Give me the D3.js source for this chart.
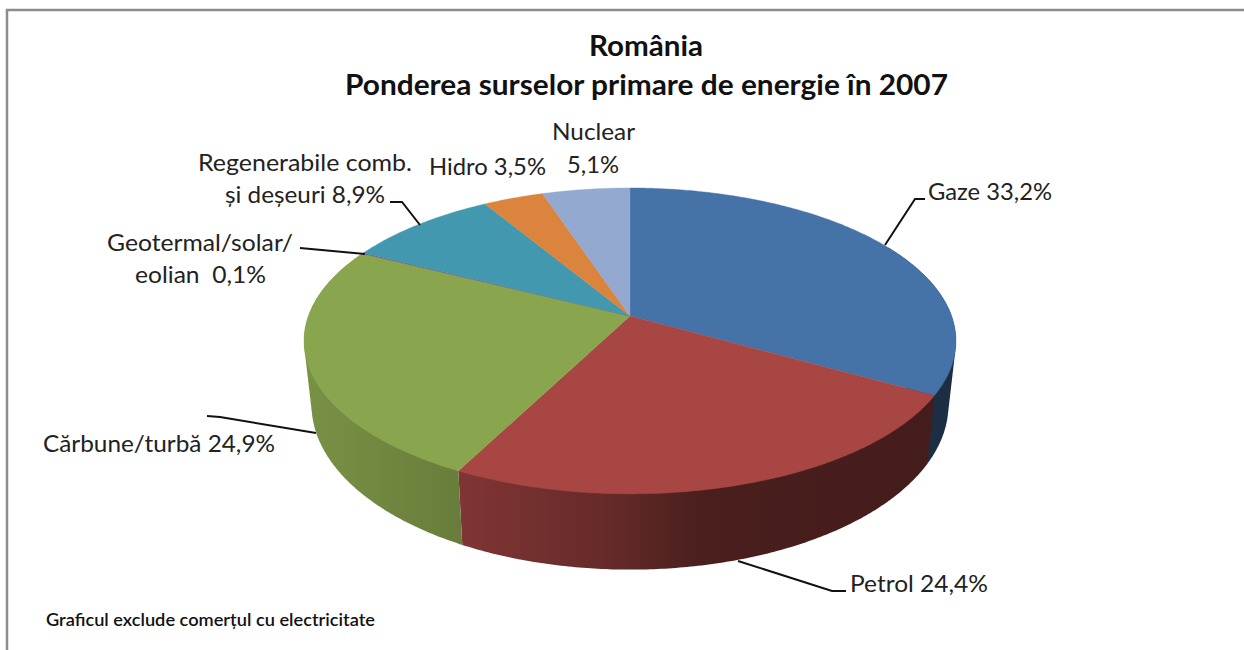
<!DOCTYPE html>
<html>
<head>
<meta charset="utf-8">
<script src="https://cdnjs.cloudflare.com/ajax/libs/d3/7.8.5/d3.min.js"></script>
<style>
html,body{margin:0;padding:0;background:#fff;overflow:hidden}
text{font-family:Lato,"Noto Sans",sans-serif;fill:#222;white-space:pre}
</style>
</head>
<body>
<svg id="c" width="1244" height="650"></svg>
<script>
const categories = ["Gaze","Petrol","Cărbune/turbă","Geotermal/solar/eolian","Regenerabile comb. și deșeuri","Hidro","Nuclear"];
const values = [33.2,24.4,24.9,0.1,8.9,3.5,5.1];
const colors = ["#4572a7","#a84644","#89a54e","#71588f","#4198af","#db843d","#93a9cf"];
const titleLines = ["România","Ponderea surselor primare de energie în 2007"];
const footnote = "Graficul exclude comerțul cu electricitate";

// label text lines per category, with their placement
const labelLayout = [
  {lines:[{t:"Gaze 33,2%",x:928,y:200,w:124}], leader:[[885,245],[915,199],[925,199]]},
  {lines:[{t:"Petrol 24,4%",x:850,y:592,w:138}], leader:[[738,561],[832,591],[846,591]]},
  {lines:[{t:"Cărbune/turbă 24,9%",x:43,y:452,w:232}], leader:[[207,416],[220,417],[316,433]]},
  {lines:[{t:"Geotermal/solar/",x:107,y:251,w:186},{t:"eolian  0,1%",x:135,y:283,w:131}], leader:[[300,248],[365,254]]},
  {lines:[{t:"Regenerabile comb.",x:198,y:171,w:214},{t:"și deșeuri 8,9%",x:225,y:203,w:160}], leader:[[390,202],[402,202],[420,225]]},
  {lines:[{t:"Hidro 3,5%",x:429,y:175,w:117}], leader:null},
  {lines:[{t:"Nuclear",x:552,y:140,w:83},{t:"5,1%",x:567,y:173,w:52}], leader:null}
];

const svg = d3.select("#c");
const defs = svg.append("defs");

// perspective projection of the pie disc
const apexX = 630, apexY = 316, A = 321.6, B = 148.9, k = 0.163;
function topPt(a){
  const d = Math.cos(a), s = 1/(1+k*d);
  return [apexX + A*Math.sin(a)*s, apexY - B*d*s];
}
function botPt(a){
  const p = topPt(a);
  return [apexX + 0.977*(p[0]-apexX), 37.2 + 1.078*p[1]];
}
const line = d3.line();
const arcPts = (fn,a0,a1) => {
  const n = Math.max(2, Math.ceil(Math.abs(a1-a0)/0.01));
  return d3.range(n+1).map(i => fn(a0+(a1-a0)*i/n));
};

const arcs = d3.pie().sort(null)(values);

// frame
svg.append("path").attr("d","M7,650V10H1244").attr("fill","none").attr("stroke","#8c8c8c").attr("stroke-width",2.5);

// side walls
const shadeX = [305,460,610,700,950];
const shadeF = [0.88,0.76,0.6,0.44,0.40];
const wallMin = 60*Math.PI/180, wallMax = 296*Math.PI/180;
const walls = svg.append("g");
arcs.forEach((d,i) => {
  const a0 = Math.max(d.startAngle,wallMin), a1 = Math.min(d.endAngle,wallMax);
  if (a0 >= a1) return;
  const base = d3.rgb(colors[i]);
  const id = "wall"+i;
  const g = defs.append("linearGradient").attr("id",id)
    .attr("gradientUnits","userSpaceOnUse").attr("x1",shadeX[0]).attr("x2",shadeX[4]).attr("y1",0).attr("y2",0);
  shadeX.forEach((x,j) => {
    const f = shadeF[j];
    g.append("stop").attr("offset",(x-shadeX[0])/(shadeX[4]-shadeX[0]))
      .attr("stop-color",d3.rgb(base.r*f,base.g*f,base.b*f).formatHex());
  });
  const hull = d3.polygonHull(arcPts(topPt,a0,a1).concat(arcPts(botPt,a0,a1)));
  walls.append("path").attr("d",line(hull)+"Z").attr("fill",`url(#${id})`);
});

// top face
svg.append("g").selectAll("path").data(arcs).join("path")
  .attr("d",d => line([[apexX,apexY]].concat(arcPts(topPt,d.startAngle,d.endAngle)))+"Z")
  .attr("fill",(d,i)=>colors[i])
  .attr("stroke",(d,i)=>colors[i]).attr("stroke-width",0.4);

// leaders
svg.append("g").selectAll("path").data(labelLayout.filter(l=>l.leader)).join("path")
  .attr("d",d=>line(d.leader)).attr("fill","none").attr("stroke","#111").attr("stroke-width",2);

// labels
svg.append("g").selectAll("text").data(labelLayout.flatMap(l=>l.lines)).join("text")
  .attr("x",d=>d.x).attr("y",d=>d.y)
  .attr("font-size",24).attr("textLength",d=>d.w).attr("lengthAdjust","spacingAndGlyphs").text(d=>d.t);

// title
svg.append("g").selectAll("text").data(titleLines).join("text")
  .attr("x",(d,i)=>[589,345][i]).attr("y",(d,i)=>56+i*39)
  .attr("textLength",(d,i)=>[114,603][i]).attr("lengthAdjust","spacingAndGlyphs")
  .attr("font-size",28).attr("font-weight",700).style("fill","#111").text(d=>d);

// footnote
svg.append("text").attr("x",46).attr("y",626).attr("font-size",18).attr("font-weight",600)
  .attr("textLength",329).attr("lengthAdjust","spacingAndGlyphs").style("fill","#111").text(footnote);
</script>
</body>
</html>
